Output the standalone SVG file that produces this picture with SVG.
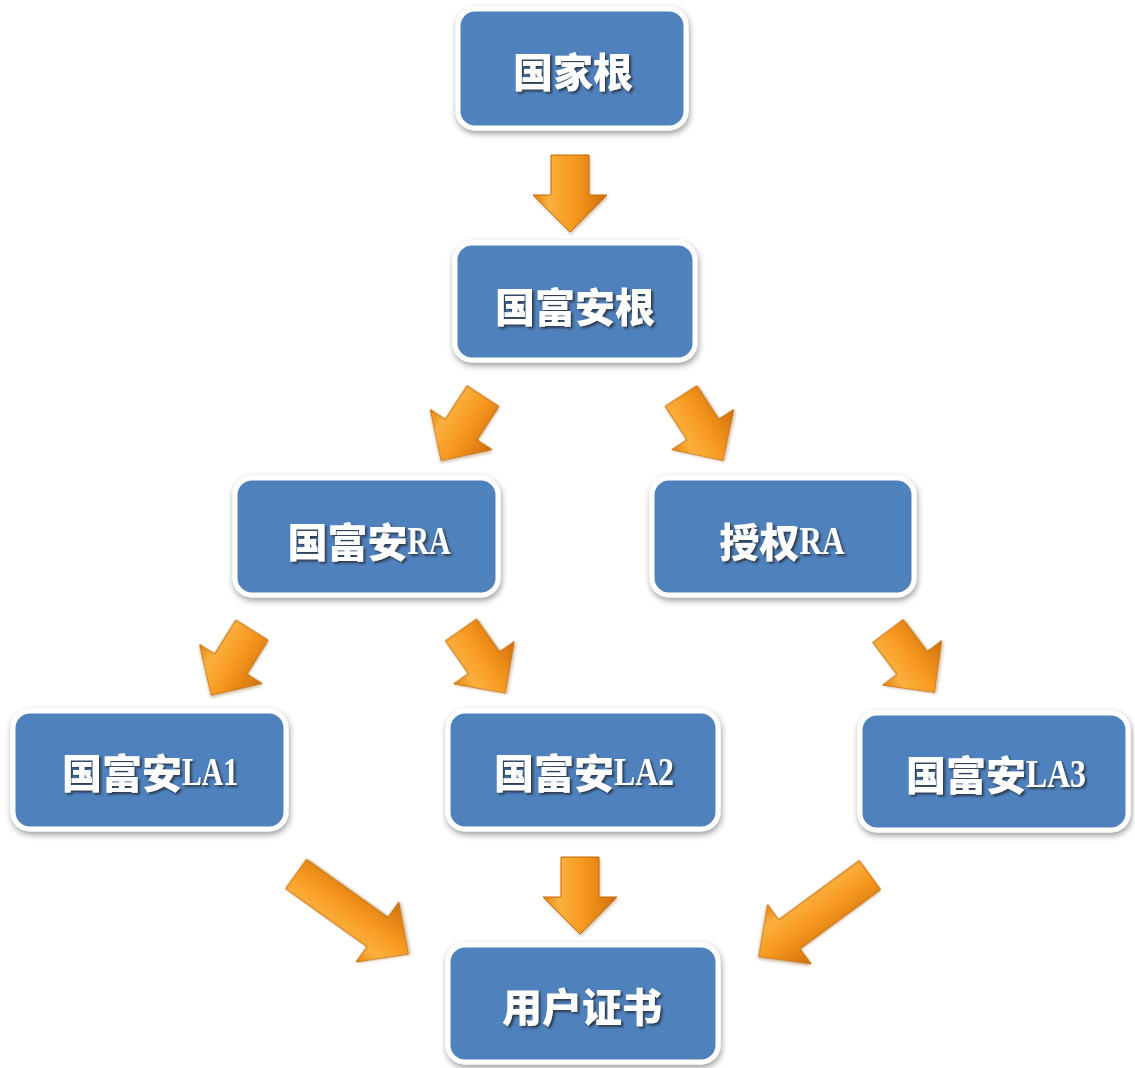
<svg xmlns="http://www.w3.org/2000/svg" width="1135" height="1068" viewBox="0 0 1135 1068">
<style>
.box{fill:#4F81BD;stroke:#ffffff;stroke-width:5;filter:url(#boxShadow)}
.lbl{fill:#ffffff;font-family:"Noto Sans CJK SC","Noto Sans",sans-serif;font-weight:900;font-size:40px;text-anchor:middle;dominant-baseline:central;filter:url(#txtShadow)}
.lat{font-family:"Liberation Serif",serif;font-weight:bold}
.arr{fill:url(#orange);stroke:#C46A0C;stroke-width:1;filter:url(#arrShadow)}
</style>
<defs>
<filter id="boxShadow" x="-10%" y="-10%" width="125%" height="130%">
<feDropShadow dx="1" dy="3" stdDeviation="3" flood-color="#000" flood-opacity="0.4"/>
</filter>
<filter id="txtShadow" x="-10%" y="-20%" width="125%" height="150%">
<feDropShadow dx="2" dy="2" stdDeviation="1.2" flood-color="#222" flood-opacity="0.75"/>
</filter>
<filter id="arrShadow" x="-20%" y="-20%" width="150%" height="150%">
<feDropShadow dx="1" dy="2" stdDeviation="1.5" flood-color="#7a4a10" flood-opacity="0.35"/>
</filter>
<linearGradient id="orange" x1="0" y1="0" x2="1" y2="0">
<stop offset="0" stop-color="#E3820F"/>
<stop offset="0.22" stop-color="#FBB03E"/>
<stop offset="0.55" stop-color="#F7981F"/>
<stop offset="1" stop-color="#D1700C"/>
</linearGradient>
<path id="arrS" d="M-19,0 H19 V40 H37 L0,77 L-37,40 H-19 Z"/>
<path id="arrL" d="M-18,0 H18 V100 H37 L0,138 L-37,100 H-18 Z"/>
</defs>

<g id="connectors">
<use href="#arrS" class="arr" transform="translate(570,155)"/>
<use href="#arrS" class="arr" transform="translate(483,396) rotate(33)"/>
<use href="#arrS" class="arr" transform="translate(681,396) rotate(-33)"/>
<use href="#arrS" class="arr" transform="translate(252,630) rotate(32)"/>
<use href="#arrS" class="arr" transform="translate(461,630) rotate(-35)"/>
<use href="#arrS" class="arr" transform="translate(888,631) rotate(-37)"/>
<use href="#arrL" class="arr" transform="translate(296,874) rotate(-54.5)"/>
<use href="#arrS" class="arr" transform="translate(580,857)"/>
<use href="#arrL" class="arr" transform="translate(870,875) rotate(53.7)"/>
</g>

<g id="node-guojiagen">
<rect class="box" x="458" y="9" width="228" height="119" rx="17"/>
<text class="lbl" x="573" y="70">国家根</text>
</g>
<g id="node-guofuangen">
<rect class="box" x="455" y="243" width="240" height="117" rx="17"/>
<text class="lbl" x="575" y="305">国富安根</text>
</g>
<g id="node-guofuan-ra">
<rect class="box" x="235" y="478" width="263" height="117" rx="17"/>
<text class="lbl" x="369" y="540">国富安<tspan class="lat" textLength="43" lengthAdjust="spacingAndGlyphs">RA</tspan></text>
</g>
<g id="node-shouquan-ra">
<rect class="box" x="652" y="478" width="262" height="117" rx="17"/>
<text class="lbl" x="782" y="540">授权<tspan class="lat" textLength="45" lengthAdjust="spacingAndGlyphs">RA</tspan></text>
</g>
<g id="node-la1">
<rect class="box" x="13" y="711" width="273" height="118" rx="17"/>
<text class="lbl" x="150" y="771">国富安<tspan class="lat" textLength="56" lengthAdjust="spacingAndGlyphs">LA1</tspan></text>
</g>
<g id="node-la2">
<rect class="box" x="448" y="711" width="270" height="118" rx="17"/>
<text class="lbl" x="584" y="771">国富安<tspan class="lat" textLength="60" lengthAdjust="spacingAndGlyphs">LA2</tspan></text>
</g>
<g id="node-la3">
<rect class="box" x="860" y="713" width="268" height="117" rx="17"/>
<text class="lbl" x="996" y="773">国富安<tspan class="lat" textLength="60" lengthAdjust="spacingAndGlyphs">LA3</tspan></text>
</g>
<g id="node-user-cert">
<rect class="box" x="448" y="945" width="270" height="117" rx="17"/>
<text class="lbl" x="582" y="1005">用户证书</text>
</g>
</svg>
